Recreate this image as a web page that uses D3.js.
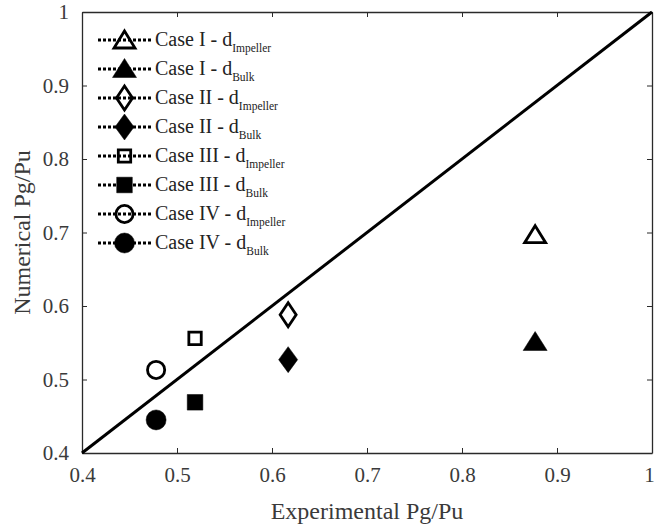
<!DOCTYPE html>
<html><head><meta charset="utf-8">
<script src="https://cdn.jsdelivr.net/npm/d3@7"></script>
<style>body{margin:0;background:#fff}svg{display:block}</style>
</head><body><svg id="c" width="655" height="527"></svg>
<script>
const caseLabels = ["Case I", "Case I", "Case II", "Case II", "Case III", "Case III", "Case IV", "Case IV"];
const subLabels = ["Impeller", "Bulk", "Impeller", "Bulk", "Impeller", "Bulk", "Impeller", "Bulk"];
const shapes = ["triangle", "triangle", "diamond", "diamond", "square", "square", "circle", "circle"];
const filled = [false, true, false, true, false, true, false, true];
const expValues = [0.877, 0.877, 0.617, 0.617, 0.519, 0.519, 0.478, 0.478];
const numValues = [0.697, 0.551, 0.588, 0.527, 0.556, 0.469, 0.513, 0.445];
const xTicks = [0.4, 0.5, 0.6, 0.7, 0.8, 0.9, 1];
const yTicks = [0.4, 0.5, 0.6, 0.7, 0.8, 0.9, 1];

const svg = d3.select("#c");
const L = 82, R = 652, T = 12, B = 453;
const x = d3.scaleLinear().domain([0.4, 1]).range([L, R]);
const y = d3.scaleLinear().domain([0.4, 1]).range([B, T]);
const fmt = d => d === 1 ? "1" : d3.format(".1f")(d);
const axisColor = "#2a2a2a";
const labelColor = "#3a3a3a";
const font = "'Liberation Serif', 'Times New Roman', serif";

const gx = svg.append("g").attr("transform", `translate(0,${B})`)
  .call(d3.axisBottom(x).tickValues(xTicks).tickFormat(fmt).tickSizeInner(-5).tickSizeOuter(0).tickPadding(14));
const gxt = svg.append("g").attr("transform", `translate(0,${T})`)
  .call(d3.axisTop(x).tickValues(xTicks).tickFormat("").tickSizeInner(-5).tickSizeOuter(0));
const gy = svg.append("g").attr("transform", `translate(${L},0)`)
  .call(d3.axisLeft(y).tickValues(yTicks).tickFormat(fmt).tickSizeInner(-5).tickSizeOuter(0).tickPadding(13));
const gyr = svg.append("g").attr("transform", `translate(${R},0)`)
  .call(d3.axisRight(y).tickValues(yTicks).tickFormat("").tickSizeInner(-5).tickSizeOuter(0));
[gx, gxt, gy, gyr].forEach(g => {
  g.select(".domain").attr("stroke", axisColor).attr("stroke-width", 1.3);
  g.selectAll(".tick line").attr("stroke", axisColor).attr("stroke-width", 1);
  g.selectAll(".tick text").attr("fill", labelColor).style("font-family", font).style("font-size", "21px");
});
gx.selectAll(".tick text").filter(d => d === 1).attr("dx", "-3");

svg.append("text").attr("x", 367).attr("y", 519).attr("text-anchor", "middle")
  .attr("fill", labelColor).style("font-family", font).style("font-size", "24px").text("Experimental Pg/Pu");
svg.append("text").attr("transform", `translate(30,${(T + B) / 2}) rotate(-90)`).attr("text-anchor", "middle")
  .attr("fill", labelColor).style("font-family", font).style("font-size", "24px").text("Numerical Pg/Pu");

svg.append("line").attr("x1", x(0.4)).attr("y1", y(0.4)).attr("x2", x(1)).attr("y2", y(1))
  .attr("stroke", "#000").attr("stroke-width", 3);

function drawMarker(g, i, cx, cy) {
  const sh = shapes[i];
  const f = filled[i];
  let p;
  if (sh === "diamond") {
    p = f ? g.append("path").attr("d", `M0,-13L9.5,0L0,13L-9.5,0Z`)
          : g.append("path").attr("d", `M0,-12L8,0L0,12L-8,0Z`);
  } else if (sh === "triangle") {
    p = f ? g.append("path").attr("d", `M0,-10.5L12,8.5L-12,8.5Z`)
          : g.append("path").attr("d", `M0,-9L10.5,8L-10.5,8Z`);
  } else if (sh === "square") {
    p = f ? g.append("path").attr("d", `M-7.8,-7.8H7.8V7.8H-7.8Z`)
          : g.append("path").attr("d", `M-6.2,-6.2H6.2V6.2H-6.2Z`);
  } else {
    p = g.append("circle").attr("r", f ? 10 : 8.6);
  }
  p.attr("transform", `translate(${cx},${cy})`)
    .attr("fill", f ? "#000" : "none")
    .attr("stroke", "#000").attr("stroke-width", f ? 0.5 : 2.8)
    .attr("stroke-linejoin", "miter");
}

const mg = svg.append("g");
expValues.forEach((v, i) => drawMarker(mg, i, x(v), y(numValues[i])));

const lg = svg.append("g");
caseLabels.forEach((c, i) => {
  const ly = 40 + i * 29;
  lg.append("line").attr("x1", 98).attr("x2", 151).attr("y1", ly).attr("y2", ly)
    .attr("stroke", "#000").attr("stroke-width", 3).attr("stroke-dasharray", "3,2");
  drawMarker(lg, i, 124.5, ly);
  const t = lg.append("text").attr("x", 155).attr("y", ly + 6).attr("fill", "#222")
    .style("font-family", font).style("font-size", "20px");
  t.append("tspan").text(c + " - d");
  t.append("tspan").attr("dy", 6).style("font-size", "11.5px").text(subLabels[i]);
});
</script></body></html>
